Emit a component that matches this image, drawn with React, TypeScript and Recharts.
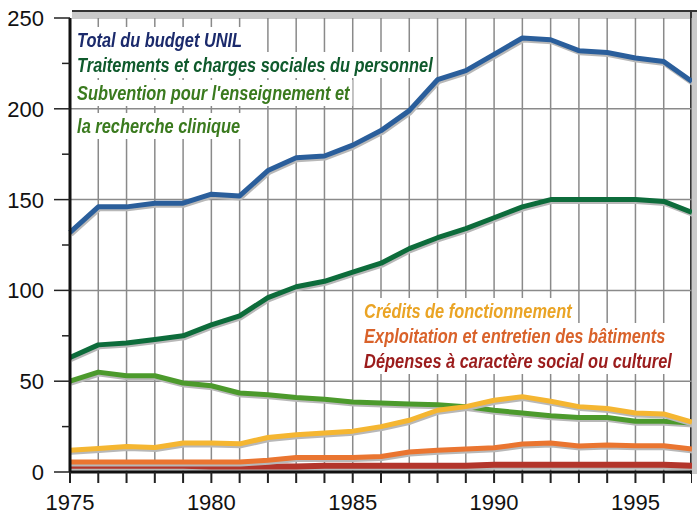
import React from "react";
import { LineChart, Line, XAxis, YAxis, CartesianGrid } from "recharts";

const years = [1975, 1976, 1977, 1978, 1979, 1980, 1981, 1982, 1983, 1984, 1985, 1986, 1987, 1988, 1989, 1990, 1991, 1992, 1993, 1994, 1995, 1996, 1997];
const totalBudget = [132, 146, 146, 148, 148, 153, 152, 166, 173, 174, 180, 188, 199, 216, 221, 230, 239, 238, 232, 231, 228, 226, 215];
const traitements = [63, 70, 71, 73, 75, 81, 86, 96, 102, 105, 110, 115, 123, 129, 134, 140, 146, 150, 150, 150, 150, 149, 143];
const subvention = [50, 55, 53, 53, 49, 47.5, 43.5, 42.5, 41, 40, 38.5, 38, 37.5, 37, 36, 34, 32.5, 31, 30, 30, 28, 28, 27];
const credits = [12, 13, 14, 13.5, 16, 16, 15.5, 19, 20.5, 21.5, 22.5, 25, 28.5, 34, 36, 39.5, 41.5, 39, 36, 35, 32.5, 32, 27.5];
const exploitation = [5.5, 5.5, 5.5, 5.5, 5.5, 5.5, 5.5, 6.5, 8, 8, 8, 8.5, 11, 12, 12.7, 13.3, 15.4, 16, 14.3, 14.8, 14.5, 14.5, 12.7];
const depenses = [3.5, 3.5, 3.5, 3.5, 3.5, 3, 3, 3, 3, 3.5, 3.5, 3.5, 3.5, 3.5, 3.5, 4, 4, 4, 4, 4, 4, 4, 3.5];

const yTicks = [0, 25, 50, 75, 100, 125, 150, 175, 200, 225, 250];
const xLabelYears = [1975, 1980, 1985, 1990, 1995];

const data = years.map((year, i) => ({
  year,
  total: totalBudget[i],
  traitements: traitements[i],
  subvention: subvention[i],
  credits: credits[i],
  exploitation: exploitation[i],
  depenses: depenses[i],
}));

const tickFont = "'Liberation Sans', Arial, sans-serif";

const YTick = (props: any) => {
  const { x, y, payload } = props;
  const major = payload.value % 50 === 0;
  return (
    <g>
      <line x1={major ? x + 10 : x + 18} x2={x + 26} y1={y} y2={y} stroke="#222" strokeWidth={1.5} />
      {major && (
        <text x={x} y={y} dy="0.36em" textAnchor="end" fontSize={22} fill="#111" fontFamily={tickFont}>
          {payload.value}
        </text>
      )}
    </g>
  );
};

const XTick = (props: any) => {
  const { x, y, payload } = props;
  const show = xLabelYears.includes(payload.value);
  return (
    <g>
      <line x1={x} x2={x} y1={y - 21} y2={y - 10} stroke="#222" strokeWidth={2} />
      {show && (
        <text x={x} y={y} dy="0.75em" textAnchor="middle" fontSize={22} fill="#111" fontFamily={tickFont}>
          {payload.value}
        </text>
      )}
    </g>
  );
};

// labels are condensed italic in the original; squeeze Liberation Sans horizontally
const label = (top: number, left: number, color: string, text: React.ReactNode) => (
  <div
    style={{
      position: "absolute",
      top,
      left,
      color,
      fontFamily: tickFont,
      fontStyle: "italic",
      fontWeight: "bold",
      fontSize: 21,
      lineHeight: "26px",
      background: "#fff",
      padding: "0 4px",
      whiteSpace: "nowrap",
      transform: "scaleX(0.78)",
      transformOrigin: "left top",
    }}
  >
    {text}
  </div>
);

export default function App() {
  return (
    <div style={{ position: "absolute", left: 0, top: 0, width: 697, height: 514, background: "#fff" }}>
      <style>{`body{margin:0} .recharts-line-curve{filter: drop-shadow(1px 2px 0px #b8b8b8);}`}</style>
      {/* bevelled frame */}
      <div style={{ position: "absolute", left: 72, top: 10, width: 625, height: 7, background: "#c9c9c9", borderTop: "2px solid #333" }} />
      <div style={{ position: "absolute", left: 690, top: 12, width: 7, height: 462, background: "#c9c9c9", borderLeft: "2px solid #333" }} />
      <LineChart width={692} height={514} data={data} margin={{ top: 18, right: 0, bottom: 0, left: 0 }}>
        <CartesianGrid
          horizontal={true}
          vertical={true}
          horizontalValues={[50, 100, 150, 200]}
          stroke="#8a8a8a"
          strokeWidth={1.5}
        />
        <XAxis
          dataKey="year"
          type="number"
          domain={[1975, 1997]}
          ticks={years}
          interval={0}
          height={42}
          tickLine={false}
          tickSize={10}
          tickMargin={11}
          axisLine={{ stroke: "#111", strokeWidth: 3 }}
          tick={<XTick />}
        />
        <YAxis
          type="number"
          domain={[0, 250]}
          ticks={yTicks}
          interval={0}
          width={70}
          tickLine={false}
          tickSize={14}
          tickMargin={12}
          axisLine={{ stroke: "#111", strokeWidth: 3 }}
          tick={<YTick />}
        />
        <Line dataKey="depenses" stroke="#b3352b" strokeWidth={6} dot={false} isAnimationActive={false} strokeLinejoin="round" />
        <Line dataKey="exploitation" stroke="#ea7530" strokeWidth={5} dot={false} isAnimationActive={false} strokeLinejoin="round" />
        <Line dataKey="subvention" stroke="#4c9a2c" strokeWidth={5} dot={false} isAnimationActive={false} strokeLinejoin="round" />
        <Line dataKey="credits" stroke="#f5b631" strokeWidth={5} dot={false} isAnimationActive={false} strokeLinejoin="round" />
        <Line dataKey="traitements" stroke="#0d6c3b" strokeWidth={5} dot={false} isAnimationActive={false} strokeLinejoin="round" />
        <Line dataKey="total" stroke="#2a5e9b" strokeWidth={5} dot={false} isAnimationActive={false} strokeLinejoin="round" />
      </LineChart>
      {label(27, 74, "#1b2a6c", <>Total du budget UNIL</>)}
      {label(52, 74, "#0f5a2c", "Traitements et charges sociales du personnel")}
      {label(80, 74, "#3a7a1e", "Subvention pour l'enseignement et")}
      {label(113, 74, "#3a7a1e", "la recherche clinique")}
      {label(298, 361, "#eaa425", "Crédits de fonctionnement")}
      {label(323, 361, "#d9622a", "Exploitation et entretien des bâtiments")}
      {label(348, 361, "#9b1c1c", "Dépenses à caractère social ou culturel")}
    </div>
  );
}
